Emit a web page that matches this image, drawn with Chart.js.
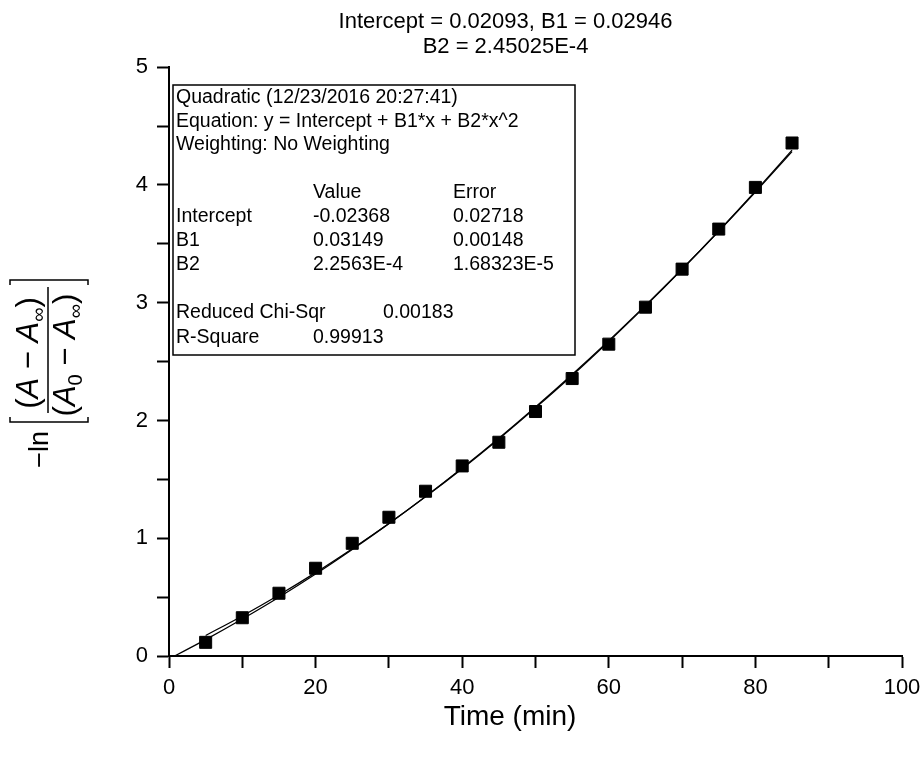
<!DOCTYPE html>
<html>
<head>
<meta charset="utf-8">
<script src="https://cdn.jsdelivr.net/npm/chart.js@4"></script>
<style>
  body { margin: 0; background: #fff; }
</style>
</head>
<body>
<canvas id="chart" width="923" height="758"></canvas>
<script>
// measured points
const timeMin = [5, 10, 15, 20, 25, 30, 35, 40, 45, 50, 55, 60, 65, 70, 75, 80, 85];
const lnRatio = [0.116, 0.325, 0.533, 0.745, 0.957, 1.178, 1.399, 1.614, 1.815, 2.076, 2.356, 2.648, 2.962, 3.285, 3.625, 3.979, 4.356];

// fit curve from the info box
const fitX = [0.75, 5, 10, 15, 20, 25, 30, 35, 40, 45, 50, 55, 60, 65, 70, 75, 80, 85];
const fitY = [0, 0.139, 0.314, 0.499, 0.696, 0.905, 1.124, 1.355, 1.597, 1.850, 2.115, 2.391, 2.678, 2.977, 3.286, 3.607, 3.940, 4.283];

// second curve (title parameters)
const fit2X = [5, 10, 15, 20, 25, 30, 35, 40, 45, 50, 55, 60, 65, 70, 75, 80, 85];
const fit2Y = [0.174, 0.340, 0.518, 0.708, 0.911, 1.125, 1.352, 1.591, 1.843, 2.107, 2.382, 2.671, 2.971, 3.284, 3.609, 3.946, 4.295];

const titleLines = ['Intercept = 0.02093, B1 = 0.02946', 'B2 = 2.45025E-4'];
const xTitle = 'Time (min)';

const infoRows = [
  { y: 98, cells: [[176, 'Quadratic (12/23/2016 20:27:41)']] },
  { y: 122, cells: [[176, 'Equation: y = Intercept + B1*x + B2*x^2']] },
  { y: 145, cells: [[176, 'Weighting: No Weighting']] },
  { y: 193, cells: [[313, 'Value'], [453, 'Error']] },
  { y: 217, cells: [[176, 'Intercept'], [313, '-0.02368'], [453, '0.02718']] },
  { y: 241, cells: [[176, 'B1'], [313, '0.03149'], [453, '0.00148']] },
  { y: 265, cells: [[176, 'B2'], [313, '2.2563E-4'], [453, '1.68323E-5']] },
  { y: 313, cells: [[176, 'Reduced Chi-Sqr'], [383, '0.00183']] },
  { y: 338, cells: [[176, 'R-Square'], [313, '0.99913']] },
];

const FONT = '"Liberation Sans", Arial, sans-serif';

const toXY = (xs, ys) => xs.map((x, i) => ({ x: x, y: ys[i] }));

// draws pieces of text (some italic / subscript) centered on u
function drawRun(ctx, parts, u, base, size) {
  let total = 0;
  const widths = parts.map(p => {
    ctx.font = (p.it ? 'italic ' : '') + (p.sub ? size * 0.65 : size) + 'px ' + FONT;
    const w = ctx.measureText(p.t).width;
    total += w;
    return w;
  });
  let pos = u - total / 2;
  parts.forEach((p, i) => {
    ctx.font = (p.it ? 'italic ' : '') + (p.sub ? size * 0.65 : size) + 'px ' + FONT;
    ctx.fillText(p.t, pos, base + (p.sub ? size * 0.22 : 0));
    pos += widths[i];
  });
}

const extras = {
  id: 'extras',
  afterDraw(chart) {
    const ctx = chart.ctx;
    ctx.save();
    ctx.fillStyle = '#000';
    ctx.strokeStyle = '#000';

    // info box
    ctx.lineWidth = 1.5;
    ctx.strokeRect(173, 85, 402, 270);
    ctx.font = '19.5px ' + FONT;
    ctx.textBaseline = 'middle';
    ctx.textAlign = 'left';
    infoRows.forEach(r => r.cells.forEach(c => ctx.fillText(c[1], c[0], r.y)));

    // x axis title
    ctx.font = '28px ' + FONT;
    ctx.textAlign = 'center';
    ctx.fillText(xTitle, 510, 717);

    // y axis title: -ln[(A - A∞)/(A0 - A∞)]
    ctx.translate(48, 375);
    ctx.rotate(-Math.PI / 2);
    ctx.textBaseline = 'alphabetic';
    ctx.textAlign = 'right';
    ctx.font = '27px ' + FONT;
    ctx.fillText('\u2212ln', -56, 0);
    ctx.textAlign = 'left';
    drawRun(ctx, [
      { t: '(' }, { t: 'A', it: true }, { t: ' \u2212 ' }, { t: 'A', it: true },
      { t: '\u221E', sub: true }, { t: ')' }
    ], 22, -10, 31);
    drawRun(ctx, [
      { t: '(' }, { t: 'A', it: true }, { t: '0', sub: true }, { t: ' \u2212 ' },
      { t: 'A', it: true }, { t: '\u221E', sub: true }, { t: ')' }
    ], 20, 27, 31);
    ctx.lineWidth = 1.5;
    ctx.beginPath();
    ctx.moveTo(-38, 0); ctx.lineTo(88, 0);
    // brackets
    ctx.moveTo(-42, -38); ctx.lineTo(-47, -38); ctx.lineTo(-47, 40); ctx.lineTo(-42, 40);
    ctx.moveTo(90, -38); ctx.lineTo(95, -38); ctx.lineTo(95, 40); ctx.lineTo(90, 40);
    ctx.stroke();
    ctx.restore();
  }
};

const ctx = document.getElementById('chart').getContext('2d');
new Chart(ctx, {
  type: 'scatter',
  data: {
    datasets: [
      {
        data: toXY(timeMin, lnRatio),
        pointStyle: 'rect',
        pointRadius: 8.5,
        backgroundColor: '#000',
        borderColor: '#000',
        borderWidth: 1,
        showLine: false,
      },
      {
        data: toXY(fitX, fitY),
        showLine: true,
        pointRadius: 0,
        borderColor: '#000',
        borderWidth: 1.3,
        cubicInterpolationMode: 'monotone',
      },
      {
        data: toXY(fit2X, fit2Y),
        showLine: true,
        pointRadius: 0,
        borderColor: '#000',
        borderWidth: 1.3,
        cubicInterpolationMode: 'monotone',
      },
    ]
  },
  options: {
    responsive: false,
    devicePixelRatio: 1,
    animation: false,
    layout: { padding: { left: 109, right: 21, top: 0, bottom: 0 } },
    plugins: {
      legend: { display: false },
      tooltip: { enabled: false },
      title: {
        display: true,
        text: titleLines,
        color: '#000',
        font: { family: FONT, size: 22, weight: 'normal', lineHeight: 1.14 },
        padding: { top: 9.5, bottom: 7.5 },
      },
    },
    scales: {
      x: {
        type: 'linear',
        min: 0,
        max: 100,
        afterFit: (scale) => {
          scale.height = 102;
          scale.paddingLeft = 0;
          scale.paddingRight = 0;
        },
        ticks: {
          stepSize: 10,
          color: '#000',
          padding: 7,
          maxRotation: 0,
          font: { family: FONT, size: 22 },
          callback: (v) => (v % 20 === 0 ? v : ''),
        },
        grid: { drawOnChartArea: false, tickLength: 12, tickWidth: 2, tickColor: '#000' },
        border: { display: true, color: '#000', width: 2 },
      },
      y: {
        type: 'linear',
        min: 0,
        max: 5,
        afterFit: (scale) => { scale.width = 60; },
        ticks: {
          stepSize: 0.5,
          color: '#000',
          padding: 9,
          font: { family: FONT, size: 22 },
          callback: (v) => (Number.isInteger(v) ? v : ''),
        },
        grid: { drawOnChartArea: false, tickLength: 12, tickWidth: 2, tickColor: '#000' },
        border: { display: true, color: '#000', width: 2 },
      },
    },
  },
  plugins: [extras],
});
</script>
</body>
</html>
